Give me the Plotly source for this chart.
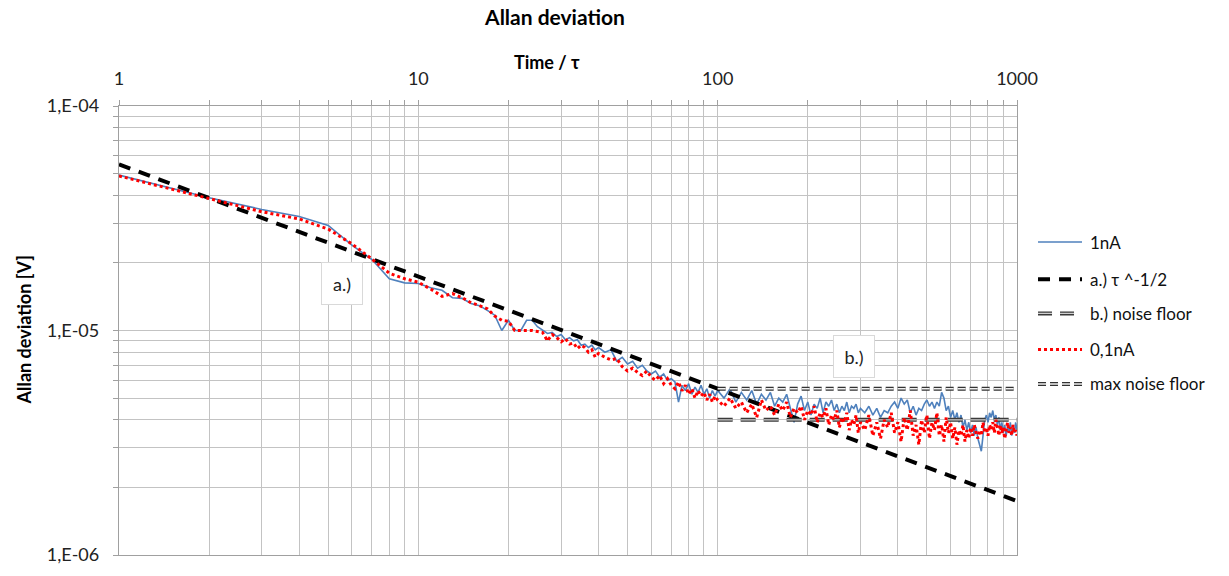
import plotly.graph_objects as go

# Averaging times (tau) at which the Allan deviation was evaluated
tau = (list(range(1, 41)) + list(range(42, 101, 2))
       + list(range(105, 301, 5)) + list(range(310, 1001, 10)))

# Allan deviation, 1 nA input current [µV]
adev_1nA_uV = [
    49.2, 39.0, 34.6, 32.2, 29.4, 24.0, 20.7, 17.0, 16.3, 16.2,
    15.5, 15.1, 14.0, 13.9, 13.2, 12.9, 12.3, 11.7, 10.0, 11.1,
    10.0, 10.0, 11.1, 11.1, 10.4, 10.0, 9.7, 9.8, 9.4, 9.6,
    9.1, 9.3, 9.0, 9.1, 8.6, 8.7, 8.4, 8.6, 8.2, 8.4,
    8.0, 8.2, 7.3, 7.6, 7.1, 7.3, 6.8, 7.0, 6.6, 6.4,
    6.6, 6.2, 6.4, 6.0, 6.1, 5.9, 4.8, 5.7, 5.4, 5.8,
    5.2, 5.6, 5.3, 5.7, 5.2, 5.5, 5.0, 5.4, 5.1, 5.4,
    5.0, 5.5, 4.8, 5.3, 4.9, 5.4, 4.7, 5.2, 4.9, 5.3,
    4.6, 5.0, 4.8, 5.2, 4.5, 3.9, 4.7, 5.1, 4.4, 4.8,
    4.2, 4.7, 4.5, 5.0, 4.3, 4.8, 4.6, 4.9, 4.4, 4.7,
    4.3, 4.6, 4.4, 4.8, 4.3, 4.6, 4.5, 4.7, 4.3, 4.5,
    4.3, 4.6, 4.2, 4.5, 4.1, 4.4, 4.3, 4.6, 4.8, 4.5,
    5.0, 4.7, 4.9, 4.3, 4.6, 4.2, 4.5, 4.4, 4.7, 4.9,
    4.6, 4.8, 4.5, 4.8, 4.6, 5.3, 5.0, 4.4, 4.6, 4.1,
    4.4, 4.0, 4.3, 3.9, 4.2, 3.7, 4.0, 3.6, 3.9, 3.5,
    3.8, 3.4, 3.7, 3.3, 3.1, 2.9, 3.4, 4.0, 4.2, 3.9,
    4.3, 4.1, 4.4, 4.0, 4.2, 3.8, 4.1, 3.6, 3.9, 3.5,
    3.8, 3.4, 3.7, 3.5, 3.9, 3.4, 3.7, 3.5, 3.9, 3.6,
]

# Allan deviation, 0.1 nA input current [µV]
adev_01nA_uV = [
    48.8, 38.6, 33.8, 31.4, 28.3, 24.3, 20.8, 18.0, 17.0, 16.4,
    15.3, 14.2, 14.6, 14.0, 13.3, 12.9, 12.5, 11.6, 11.1, 11.0,
    10.0, 10.0, 10.0, 10.0, 9.9, 9.8, 9.0, 9.6, 9.3, 8.9,
    9.2, 8.7, 8.8, 8.3, 8.6, 8.4, 8.0, 8.2, 7.6, 7.9,
    7.6, 7.4, 7.5, 6.9, 6.6, 6.8, 6.5, 6.3, 6.6, 6.2,
    6.0, 6.3, 5.8, 6.1, 5.7, 5.5, 5.9, 5.4, 5.7, 5.2,
    5.5, 5.0, 5.4, 5.1, 5.3, 4.9, 5.2, 4.8, 5.1, 4.9,
    4.6, 5.0, 4.5, 4.8, 4.3, 4.7, 4.1, 4.9, 4.4, 4.6,
    4.2, 4.7, 4.4, 4.8, 4.1, 4.5, 4.3, 4.6, 4.0, 4.4,
    4.2, 4.6, 3.9, 4.3, 4.1, 4.5, 3.8, 4.2, 4.0, 4.4,
    3.7, 4.1, 3.9, 4.3, 3.6, 4.0, 3.8, 4.2, 3.5, 3.9,
    3.6, 4.2, 3.4, 3.9, 3.3, 4.0, 3.7, 4.3, 3.5, 3.9,
    3.2, 4.1, 3.6, 4.4, 3.4, 3.8, 3.1, 4.0, 3.5, 4.2,
    3.3, 3.9, 3.6, 4.3, 3.4, 3.8, 3.2, 4.1, 3.5, 3.9,
    3.3, 3.7, 3.1, 3.6, 3.4, 3.8, 3.2, 3.6, 3.3, 3.7,
    3.4, 3.8, 3.5, 3.3, 3.6, 3.4, 3.9, 3.5, 3.7, 3.4,
    3.8, 3.6, 3.9, 3.5, 4.0, 3.7, 3.4, 3.8, 3.5, 3.7,
    3.3, 3.6, 3.9, 3.5, 3.7, 3.4, 3.8, 3.5, 3.6, 3.4,
]

# Reference lines: a.) tau^-1/2 slope, b.) noise floor, max noise floor [V]
slope_tau = [1, 1000]
slope_adev = [5.5e-5, 1.74e-6]
floor_tau = [100, 1000]
floor_adev = [4.0e-6, 4.0e-6]
max_floor_adev = [5.5e-6, 5.5e-6]

adev_1nA = [v * 1e-6 for v in adev_1nA_uV]
adev_01nA = [v * 1e-6 for v in adev_01nA_uV]

FONT = "Lato, 'Open Sans', sans-serif"
BLUE = "#4F81BD"
GRID = "#C3C3C3"

fig = go.Figure()

fig.add_trace(go.Scatter(x=tau, y=adev_1nA, mode="lines", name="1nA",
                         line=dict(color=BLUE, width=1.6)))
fig.add_trace(go.Scatter(x=slope_tau, y=slope_adev, mode="lines", name="a.) τ ^-1/2",
                         line=dict(color="black", width=4, dash="12px,9px")))
# noise floor: double line (dark outline with light core)
fig.add_trace(go.Scatter(x=floor_tau, y=floor_adev, mode="lines", name="b.) noise floor",
                         line=dict(color="#3A3A3A", width=4, dash="15px,8px")))
fig.add_trace(go.Scatter(x=floor_tau, y=floor_adev, mode="lines", showlegend=False,
                         hoverinfo="skip", line=dict(color="#D0D0D0", width=1.2, dash="15px,8px")))
fig.add_trace(go.Scatter(x=tau, y=adev_01nA, mode="lines", name="0,1nA",
                         line=dict(color="#FF0000", width=3, dash="dot")))
# max noise floor: hollow short dashes
fig.add_trace(go.Scatter(x=floor_tau, y=max_floor_adev, mode="lines", name="max noise floor",
                         line=dict(color="#333333", width=4, dash="8px,4px")))
fig.add_trace(go.Scatter(x=floor_tau, y=max_floor_adev, mode="lines", showlegend=False,
                         hoverinfo="skip", line=dict(color="#F0F0F0", width=1.6, dash="8px,4px")))

# Hand-drawn legend on the right of the plot area
legend_items = [
    ("1nA", [dict(color=BLUE, width=1.6, dash="solid")]),
    ("a.) τ ^-1/2", [dict(color="black", width=4, dash="12px,9px")]),
    ("b.) noise floor", [dict(color="#3A3A3A", width=4, dash="14px,8px"),
                         dict(color="#D0D0D0", width=1.2, dash="14px,8px")]),
    ("0,1nA", [dict(color="#FF0000", width=3, dash="dot")]),
    ("max noise floor", [dict(color="#333333", width=4, dash="8px,4px"),
                         dict(color="#F0F0F0", width=1.6, dash="8px,4px")]),
]
shapes = []
annotations = []
legend_y = [0.697, 0.614, 0.538, 0.4575, 0.381]
for (label, lines), ly in zip(legend_items, legend_y):
    for ln in lines:
        shapes.append(dict(type="line", xref="paper", yref="paper",
                           x0=1.0234, x1=1.0724, y0=ly, y1=ly, line=ln))
    annotations.append(dict(text=label, xref="paper", yref="paper", x=1.079, y=ly,
                            xanchor="left", yanchor="middle", showarrow=False,
                            font=dict(family=FONT, size=17, color="#111111")))

# Region labels
for txt, lx, ly in [("a.)", 0.744, -4.791), ("b.)", 2.456, -5.118)]:
    annotations.append(dict(text=txt, x=lx, y=ly, xref="x", yref="y", showarrow=False,
                            bgcolor="white", bordercolor="#D9D9D9", borderwidth=1,
                            width=38, height=39, font=dict(family=FONT, size=18, color="#222222")))

# Axis titles
annotations.append(dict(text="<b>Time / τ</b>", xref="paper", yref="paper", x=0.477, y=1.0,
                        yshift=44, xanchor="center", yanchor="middle", showarrow=False,
                        font=dict(family=FONT, size=18, color="black")))
annotations.append(dict(text="<b>Allan deviation [V]</b>", xref="paper", yref="paper", x=0.0,
                        xshift=-96, y=0.5, textangle=-90, xanchor="center", yanchor="middle",
                        showarrow=False, font=dict(family=FONT, size=18, color="black")))

axis_common = dict(type="log", showgrid=True, gridcolor=GRID, gridwidth=1.3,
                   ticks="outside", ticklen=5, tickcolor="#A0A0A0",
                   showline=True, linecolor="#A0A0A0", linewidth=1.3, mirror=True,
                   tickfont=dict(family=FONT, size=18, color="#222222"),
                   minor=dict(dtick="D1", showgrid=True, gridcolor=GRID, gridwidth=1.3,
                              ticks="outside", ticklen=5, tickcolor="#A0A0A0"),
                   zeroline=False)

fig.update_layout(
    width=1229, height=576,
    margin=dict(l=119, r=212, t=106, b=11),
    paper_bgcolor="white", plot_bgcolor="white",
    showlegend=False,
    title=dict(text="<b>Allan deviation</b>", x=0.4855, xref="paper", xanchor="center",
               y=1 - 18 / 576, yanchor="middle",
               font=dict(family=FONT, size=21, color="black")),
    xaxis=dict(side="top", range=[0, 3], tickvals=[1, 10, 100, 1000],
               ticktext=["1", "10", "100", "1000"], ticklabelstandoff=8, **axis_common),
    yaxis=dict(range=[-6, -4], tickvals=[1e-6, 1e-5, 1e-4],
               ticktext=["1,E-06", "1,E-05", "1,E-04"], ticklabelstandoff=10, **axis_common),
    shapes=shapes,
    annotations=annotations,
)

fig.write_html("out.html")
